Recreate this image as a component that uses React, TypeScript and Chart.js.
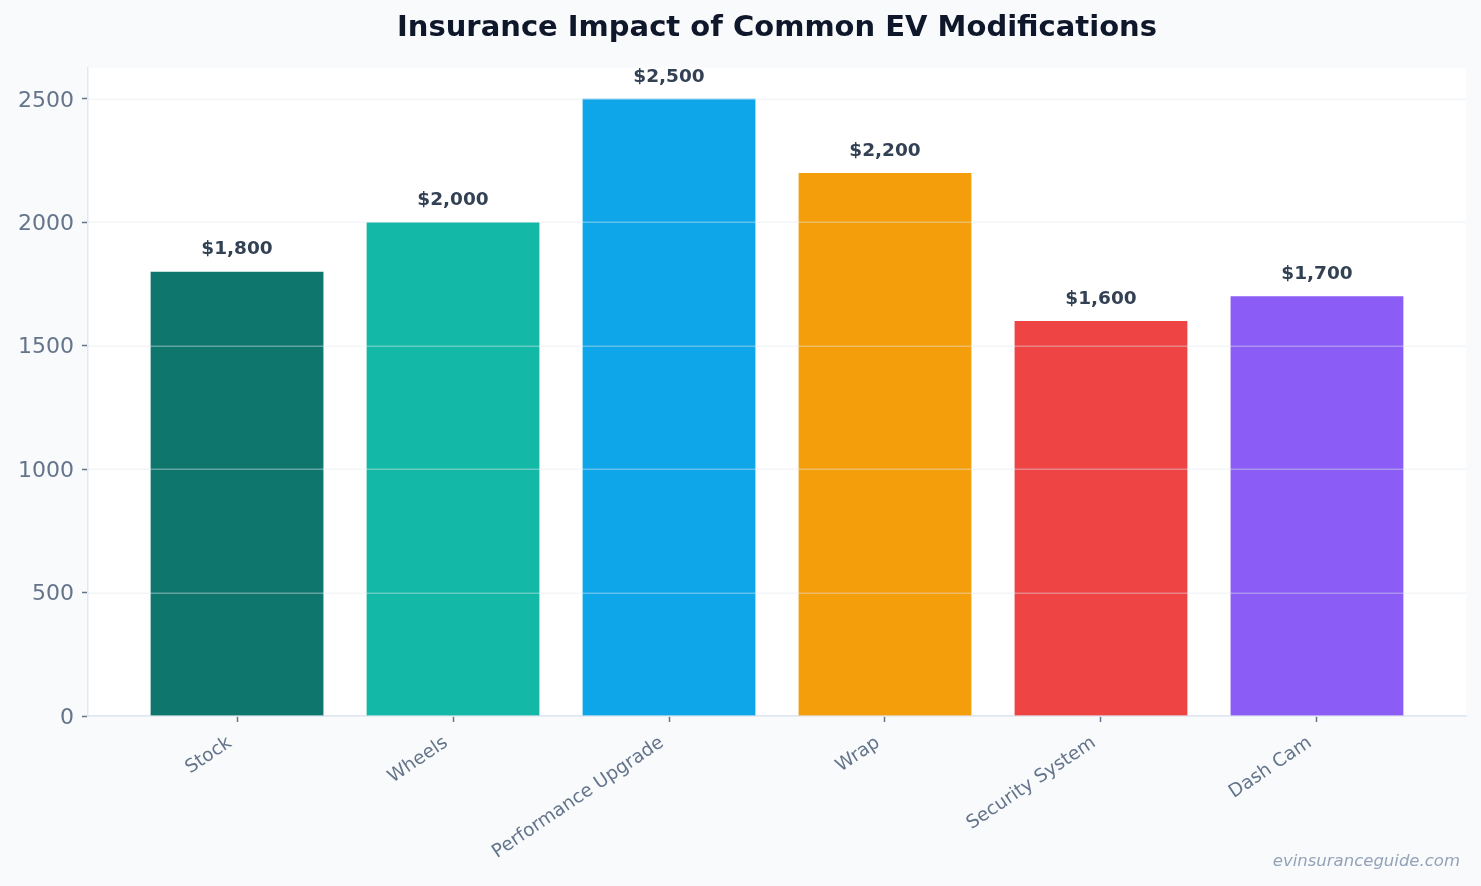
import React, { useEffect, useRef } from "react";
import { Chart, registerables } from "chart.js";

Chart.register(...registerables);

const categories = ["Stock", "Wheels", "Performance Upgrade", "Wrap", "Security System", "Dash Cam"];
const premiums = [1800, 2000, 2500, 2200, 1600, 1700];
const barColors = ["#0f766e", "#14b8a6", "#0ea5e9", "#f59e0b", "#ef4444", "#8b5cf6"];
const yTicks = [0, 500, 1000, 1500, 2000, 2500];

const TITLE = "Insurance Impact of Common EV Modifications";
const SOURCE = "evinsuranceguide.com";
const FONT = "'DejaVu Sans', sans-serif";

const fmtMoney = (v: number) => "$" + v.toLocaleString("en-US");

const decorPlugin = {
  id: "decor",
  beforeDraw(chart: any) {
    const { ctx, chartArea, width, height } = chart;
    ctx.save();
    ctx.fillStyle = "#f8fafc";
    ctx.fillRect(0, 0, width, height);
    ctx.fillStyle = "#ffffff";
    ctx.fillRect(chartArea.left, chartArea.top, chartArea.right - chartArea.left, chartArea.bottom - chartArea.top);
    ctx.restore();
  },
  afterDatasetsDraw(chart: any) {
    // horizontal grid lines sit on top of the bars
    const { ctx, chartArea } = chart;
    const yScale = chart.scales.y;
    ctx.save();
    ctx.strokeStyle = "rgba(226,232,240,0.4)";
    ctx.lineWidth = 1.5;
    yTicks.forEach((v) => {
      const py = Math.round(yScale.getPixelForValue(v)) + 0.25;
      ctx.beginPath();
      ctx.moveTo(chartArea.left, py);
      ctx.lineTo(chartArea.right, py);
      ctx.stroke();
    });
    ctx.restore();
  },
  afterDraw(chart: any) {
    const { ctx, chartArea, width } = chart;
    ctx.save();
    // title
    ctx.fillStyle = "#0f172a";
    ctx.font = `bold 29px ${FONT}`;
    ctx.textAlign = "center";
    ctx.textBaseline = "middle";
    ctx.fillText(TITLE, (chartArea.left + chartArea.right) / 2, 28);

    // value labels above bars
    const meta = chart.getDatasetMeta(0);
    ctx.fillStyle = "#334155";
    ctx.font = `bold 18.5px ${FONT}`;
    meta.data.forEach((bar: any, i: number) => {
      ctx.fillText(fmtMoney(premiums[i]), bar.x, bar.y - 22);
    });

    // source note
    ctx.fillStyle = "#94a3b8";
    ctx.font = `italic 16.5px ${FONT}`;
    ctx.textAlign = "right";
    ctx.fillText(SOURCE, width - 21, 862);
    ctx.restore();
  },
};

export default function App() {
  const canvasRef = useRef<HTMLCanvasElement>(null);

  useEffect(() => {
    document.body.style.margin = "0";
    document.body.style.background = "#f8fafc";
    const canvas = canvasRef.current;
    if (!canvas) return;
    const chart = new Chart(canvas, {
      type: "bar",
      data: {
        datasets: [
          {
            data: premiums.map((v, i) => ({ x: i, y: v })),
            backgroundColor: barColors,
            borderWidth: 0,
            categoryPercentage: 1,
            barPercentage: 0.8,
          },
        ],
      },
      options: {
        animation: false,
        responsive: false,
        layout: { padding: { top: 68, right: 15, left: 0, bottom: 0 } },
        plugins: {
          legend: { display: false },
          tooltip: { enabled: false },
          title: { display: false },
        },
        scales: {
          x: {
            type: "linear",
            min: -0.69,
            max: 5.69,
            offset: false,
            afterBuildTicks: (scale: any) => {
              scale.ticks = categories.map((_, i) => ({ value: i }));
            },
            afterFit: (scale: any) => {
              scale.height = 170;
            },
            grid: {
              offset: false,
              drawOnChartArea: false,
              drawTicks: true,
              tickLength: 6,
              tickColor: "#64748b",
              tickWidth: 1.5,
            },
            border: { color: "#e2e8f0", width: 1.5 },
            ticks: {
              autoSkip: false,
              minRotation: 34,
              maxRotation: 34,
              padding: 10,
              labelOffset: -7,
              color: "#64748b",
              font: { family: FONT, size: 18.5 },
              callback: (v: any) => categories[Number(v)] ?? "",
            },
          },
          y: {
            min: 0,
            max: 2625,
            afterBuildTicks: (scale: any) => {
              scale.ticks = yTicks.map((v) => ({ value: v }));
            },
            afterFit: (scale: any) => {
              scale.width = 88;
            },
            grid: {
              drawOnChartArea: false,
              drawTicks: true,
              tickLength: 6,
              tickColor: "#64748b",
              tickWidth: 1.5,
            },
            border: { color: "#e2e8f0", width: 1.5 },
            ticks: {
              padding: 8,
              labelOffset: 2,
              color: "#64748b",
              font: { family: FONT, size: 22 },
              callback: (v: any) => String(v),
            },
          },
        },
      },
      plugins: [decorPlugin],
    });
    return () => chart.destroy();
  }, []);

  return (
    <div style={{ width: 1481, height: 886 }}>
      <canvas ref={canvasRef} width={1481} height={886} style={{ display: "block" }} />
    </div>
  );
}
